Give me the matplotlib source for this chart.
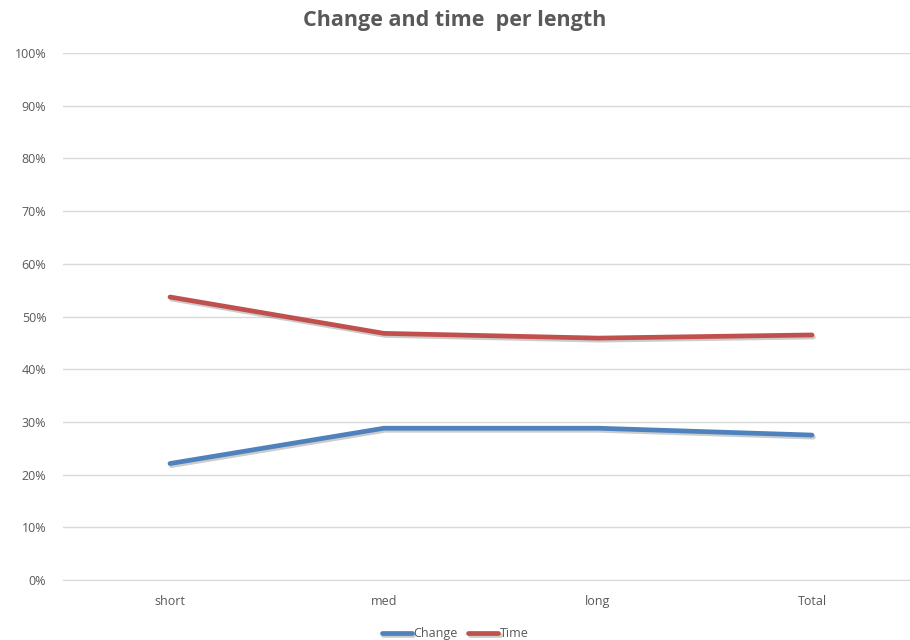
import matplotlib
matplotlib.use("Agg")
import matplotlib.pyplot as plt
import matplotlib.patheffects as pe
from matplotlib.ticker import PercentFormatter, MultipleLocator

categories = ["short", "med", "long", "Total"]
change = [22.1, 28.8, 28.8, 27.5]
time_share = [53.7, 46.8, 45.9, 46.5]

plt.rcParams["font.family"] = ["Open Sans", "DejaVu Sans"]
text_color = "#595959"
grid_color = "#d9d9d9"

fig = plt.figure(figsize=(9.1, 6.4), dpi=100)
ax = fig.add_axes([63 / 910, 60 / 640, 856 / 910, 527 / 640])

shadow = [pe.SimpleLineShadow(offset=(1, -1.5), alpha=0.2, shadow_color="black"),
          pe.Normal()]
x = range(len(categories))
ax.plot(x, change, color="#4F81BD", lw=3.4, solid_capstyle="round",
        label="Change", path_effects=shadow)
ax.plot(x, time_share, color="#C0504D", lw=3.4, solid_capstyle="round",
        label="Time", path_effects=shadow)

ax.set_xlim(-0.5, len(categories) - 0.5)
ax.set_ylim(0, 100)
ax.yaxis.set_major_locator(MultipleLocator(10))
ax.yaxis.set_major_formatter(PercentFormatter(decimals=0))
ax.set_xticks(list(x))
ax.set_xticklabels(categories)
ax.grid(axis="y", color=grid_color, lw=1)
ax.set_axisbelow(True)
for side in ("top", "right", "left"):
    ax.spines[side].set_visible(False)
ax.spines["bottom"].set_color(grid_color)
ax.tick_params(axis="both", length=0, labelsize=9, colors=text_color)
ax.tick_params(axis="y", pad=12)
ax.tick_params(axis="x", pad=11)

fig.suptitle("Change and time  per length", x=0.5, y=0.985,
             fontsize=15.5, fontweight="bold", color=text_color)

fig.legend(loc="lower center", bbox_to_anchor=(0.5, -0.018), ncol=2,
           frameon=False, fontsize=9, labelcolor=text_color,
           handlelength=2.4, handletextpad=0.1, columnspacing=0.9)

fig.savefig("out.png", dpi=100)
